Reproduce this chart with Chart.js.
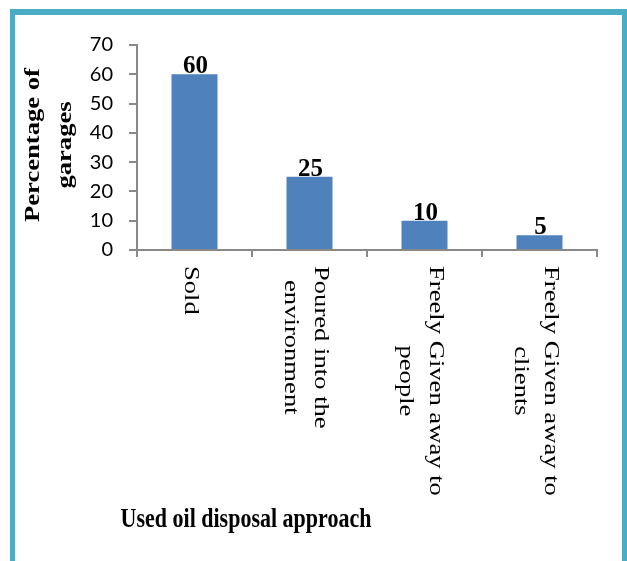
<!DOCTYPE html>
<html>
<head>
<meta charset="utf-8">
<script src="https://cdn.jsdelivr.net/npm/chart.js@4/dist/chart.umd.min.js"></script>
<style>
  html, body { margin: 0; padding: 0; background: #fff; overflow: hidden; }
  #wrap { position: relative; width: 627px; height: 561px; }
  #chart { position: absolute; left: 0; top: 0; }
  #frame {
    position: absolute; left: 10px; top: 9px; width: 617px; height: 620px;
    box-sizing: border-box; border: 5px solid #4BACC6; border-top-width: 6px;
    pointer-events: none;
  }
</style>
</head>
<body>
<div id="wrap">
  <canvas id="chart" width="627" height="561"></canvas>
  <div id="frame"></div>
</div>
<script>
// Disposal approaches (category axis, each label split into lines)
const categories = [
  ["Sold"],
  ["Poured into the", "environment"],
  ["Freely Given away to", "people"],
  ["Freely Given away to", "clients"]
];
// Share of garages using each approach (%)
const percentages = [60, 25, 10, 5];
// Value axis ticks
const yTicks = [0, 10, 20, 30, 40, 50, 60, 70];

const xTitle = "Used oil disposal approach";
const yTitle = ["Percentage of", "garages"];

const SERIF = '"Liberation Serif", "Times New Roman", serif';
const STRETCH = 1.21; // serif text is drawn slightly elongated vertically

function serifFont(size, bold) {
  return (bold ? "bold " : "") + size + "px " + SERIF;
}

// Draws category labels, bar values and axis titles
const textPlugin = {
  id: "textPlugin",
  afterDraw(chart) {
    const ctx = chart.ctx;
    const xs = chart.scales.x;
    const ys = chart.scales.y;
    ctx.save();
    ctx.fillStyle = "#000";

    // category labels, rotated clockwise, reading top to bottom
    ctx.font = serifFont(22, false);
    ctx.textBaseline = "middle";
    const lineGap = 30;
    categories.forEach((lines, i) => {
      const cx = xs.getPixelForValue(i) - 4;
      const n = lines.length;
      const longest = Math.max(...lines.map(l => ctx.measureText(l).width));
      lines.forEach((line, j) => {
        const lx = cx + ((n - 1) / 2 - j) * lineGap;
        ctx.save();
        ctx.translate(lx, ys.bottom + 16);
        ctx.rotate(Math.PI / 2);
        ctx.scale(STRETCH, 1);
        ctx.textAlign = "left";
        // center shorter lines against the longest line
        const shift = (longest - ctx.measureText(line).width) / 2;
        ctx.fillText(line, shift, 0);
        ctx.restore();
      });
    });

    // value labels above bars
    ctx.font = serifFont(25, true);
    ctx.textAlign = "center";
    ctx.textBaseline = "alphabetic";
    const meta = chart.getDatasetMeta(0);
    percentages.forEach((v, i) => {
      const bx = meta.data[i].x + 1;
      const by = ys.getPixelForValue(v) - 1;
      ctx.fillText(String(v), bx, by);
    });

    // x axis title
    ctx.font = serifFont(22, true);
    ctx.save();
    ctx.translate(246, 527);
    ctx.scale(1, STRETCH);
    ctx.fillText(xTitle, 0, 0);
    ctx.restore();

    // y axis title, rotated counter-clockwise
    ctx.textBaseline = "middle";
    const tcx = 49, tcy = 145;
    yTitle.forEach((line, j) => {
      ctx.save();
      ctx.translate(tcx + (j - (yTitle.length - 1) / 2) * 32, tcy);
      ctx.rotate(-Math.PI / 2);
      ctx.scale(STRETCH, 1);
      ctx.fillText(line, 0, 0);
      ctx.restore();
    });

    ctx.restore();
  }
};

const axisGray = "#898989";

new Chart(document.getElementById("chart"), {
  type: "bar",
  data: {
    labels: categories.map(c => c.join(" ")),
    datasets: [{
      data: percentages,
      backgroundColor: "#4F81BD",
      borderWidth: 0,
      barPercentage: 0.4,
      categoryPercentage: 1.0
    }]
  },
  options: {
    responsive: false,
    animation: false,
    events: [],
    layout: { padding: { left: 0, top: 45, right: 30, bottom: 0 } },
    plugins: {
      legend: { display: false },
      tooltip: { enabled: false },
      title: { display: false }
    },
    scales: {
      x: {
        offset: true,
        grid: {
          offset: true,
          drawOnChartArea: false,
          drawTicks: true,
          tickLength: 7,
          color: axisGray,
          lineWidth: 2
        },
        border: { display: true, color: axisGray, width: 2 },
        ticks: { display: false },
        afterFit(scale) { scale.height = 311; }
      },
      y: {
        min: 0,
        max: 70,
        afterBuildTicks(scale) { scale.ticks = yTicks.map(v => ({ value: v })); },
        grid: {
          drawOnChartArea: false,
          drawTicks: true,
          tickLength: 8,
          color: axisGray,
          lineWidth: 2
        },
        border: { display: true, color: axisGray, width: 2 },
        ticks: {
          padding: 16,
          color: "#000",
          font: { family: "Lato, 'Open Sans', sans-serif", size: 20 }
        },
        afterFit(scale) { scale.width = 137; }
      }
    }
  },
  plugins: [textPlugin]
});
</script>
</body>
</html>
